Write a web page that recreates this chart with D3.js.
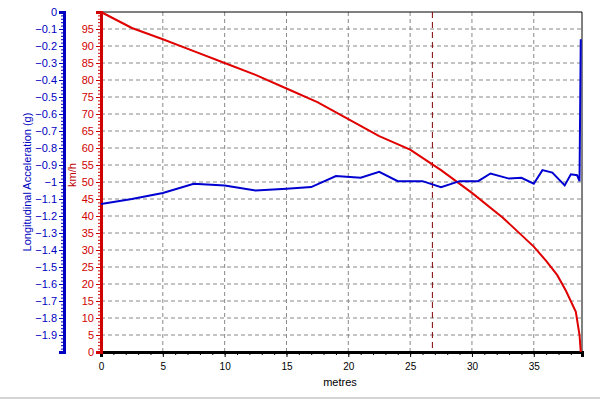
<!DOCTYPE html>
<html><head><meta charset="utf-8">
<script src="https://cdn.jsdelivr.net/npm/d3@7"></script>
<style>body{margin:0;background:#fff}text{font-family:"Liberation Sans",Arial,sans-serif}</style>
</head><body><svg id="c" width="600" height="400"></svg>
<script>
// speed (km/h) vs distance (m)
var speedX = [0, 2.5, 5, 7.5, 10, 12.5, 15, 17.5, 20, 22.5, 25, 27.5, 30, 32.5, 35, 36, 36.9, 37.6, 38.4, 38.7, 38.8];
var speedY = [100, 95.3, 92, 88.5, 85, 81.5, 77.5, 73.5, 68.5, 63.5, 59.5, 53.5, 46.8, 39.5, 31, 26.8, 22.6, 18, 11.8, 5, 0];
// longitudinal acceleration (g) vs distance (m)
var accX = [0, 2.5, 5, 7.5, 10, 12.5, 15, 17, 19, 21, 22.5, 24, 26, 27.5, 29, 30.5, 31.5, 33, 34, 35, 35.7, 36.5, 37.5, 38, 38.5, 38.7, 38.8];
var accY = [-1.13, -1.1, -1.065, -1.01, -1.02, -1.05, -1.04, -1.03, -0.965, -0.975, -0.94, -0.995, -0.995, -1.03, -0.995, -0.995, -0.95, -0.98, -0.975, -1.01, -0.93, -0.945, -1.02, -0.955, -0.96, -0.995, -0.16];
var markerX = 26.8;

var svg = d3.select("#c");
var L = 101, R = 582, T = 12, B = 352;
var x = d3.scaleLinear().domain([0, 38.9]).range([L, R]);
var yS = d3.scaleLinear().domain([0, 100]).range([B, T]);
var yA = d3.scaleLinear().domain([-2, 0]).range([B, T]);

// grid
var g = svg.append("g").attr("stroke", "#888").attr("stroke-dasharray", "4,3");
d3.range(5, 39, 5).forEach(function (v) {
  g.append("line").attr("x1", x(v)).attr("x2", x(v)).attr("y1", T).attr("y2", B);
});
d3.range(5, 100, 5).forEach(function (v) {
  g.append("line").attr("x1", L).attr("x2", R).attr("y1", yS(v)).attr("y2", yS(v));
});

// frame
svg.append("line").attr("x1", L).attr("x2", R).attr("y1", T).attr("y2", T).attr("stroke", "#000");
svg.append("line").attr("x1", R).attr("x2", R).attr("y1", T).attr("y2", B).attr("stroke", "#000");
svg.append("line").attr("x1", 0).attr("x2", 600).attr("y1", 398).attr("y2", 398).attr("stroke", "#aaa");

// marker
svg.append("line").attr("x1", x(markerX)).attr("x2", x(markerX)).attr("y1", T).attr("y2", B)
  .attr("stroke", "#800000").attr("stroke-dasharray", "6,4");

// x axis
var xa = svg.append("g").attr("transform", "translate(0," + B + ")")
  .call(d3.axisBottom(x).tickValues(d3.range(0, 39, 5)).tickSize(5).tickPadding(6));
xa.select(".domain").attr("stroke-width", 3);
svg.append("g").attr("transform", "translate(0," + B + ")")
  .call(d3.axisBottom(x).tickValues(d3.range(0, 39, 1)).tickSize(3).tickFormat(""))
  .select(".domain").remove();
svg.append("text").attr("x", 340).attr("y", 386).attr("text-anchor", "middle").attr("font-size", 11).text("metres");

// speed axis (red)
var ra = svg.append("g").attr("transform", "translate(" + L + ",0)")
  .call(d3.axisLeft(yS).tickValues(d3.range(0, 100, 5)).tickSize(5).tickPadding(2));
ra.select(".domain").attr("stroke", "#d00000").attr("stroke-width", 3);
ra.selectAll("line").attr("stroke", "#d00000");
ra.selectAll("text").attr("fill", "#d00000").attr("font-size", 11);
svg.append("g").attr("transform", "translate(" + L + ",0)")
  .call(d3.axisLeft(yS).tickValues(d3.range(0, 100, 1)).tickSize(3).tickFormat(""))
  .call(function (s) { s.select(".domain").remove(); s.selectAll("line").attr("stroke", "#d00000"); });
svg.append("text").attr("transform", "translate(76,175) rotate(-90)").attr("text-anchor", "middle")
  .attr("fill", "#c00000").attr("font-size", 11).text("km/h");

// accel axis (blue)
var ba = svg.append("g").attr("transform", "translate(64,0)")
  .call(d3.axisLeft(yA).tickValues(d3.range(-19, 1).map(function (v) { return v / 10; })).tickSize(5).tickPadding(2)
    .tickFormat(function (d) { return d === 0 ? "0" : d3.format("")(+d.toFixed(1)); }));
ba.select(".domain").attr("stroke", "#0000c0").attr("stroke-width", 3);
ba.selectAll("line").attr("stroke", "#0000c0");
ba.selectAll("text").attr("fill", "#0000c0").attr("font-size", 11);
svg.append("g").attr("transform", "translate(64,0)")
  .call(d3.axisLeft(yA).tickValues(d3.range(-100, 1).map(function (v) { return v / 50; })).tickSize(3).tickFormat(""))
  .call(function (s) { s.select(".domain").remove(); s.selectAll("line").attr("stroke", "#0000c0"); });
svg.append("text").attr("transform", "translate(31,182) rotate(-90)").attr("text-anchor", "middle")
  .attr("fill", "#0000c0").attr("font-size", 11).text("Longitudinal Acceleration (g)");

// series
svg.append("path").datum(d3.zip(speedX, speedY))
  .attr("d", d3.line().x(function (d) { return x(d[0]); }).y(function (d) { return yS(d[1]); }))
  .attr("fill", "none").attr("stroke", "#e00000").attr("stroke-width", 2);
svg.append("path").datum(d3.zip(accX, accY))
  .attr("d", d3.line().x(function (d) { return x(d[0]); }).y(function (d) { return yA(d[1]); }))
  .attr("fill", "none").attr("stroke", "#0000d0").attr("stroke-width", 2);
</script></body></html>
